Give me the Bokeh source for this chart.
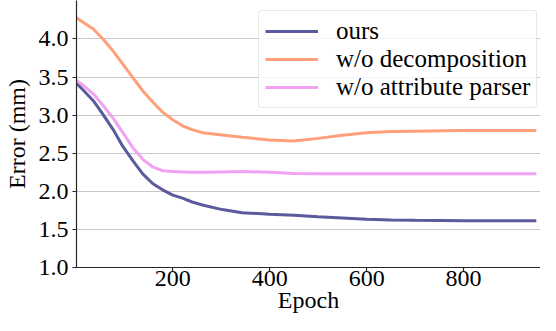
from bokeh.plotting import figure
from bokeh.models import Range1d, Legend, LegendItem, NumeralTickFormatter
from bokeh.embed import file_html
from bokeh.resources import INLINE

# ---- data ----
epochs = [1, 15, 36, 56, 77, 97, 118, 138, 159, 179, 200, 220, 240, 261, 302,
          343, 400, 450, 500, 550, 600, 650, 700, 800, 950]
ours = [3.42, 3.33, 3.19, 3.01, 2.81, 2.59, 2.40, 2.23, 2.10, 2.02, 1.95, 1.91,
        1.86, 1.82, 1.76, 1.72, 1.70, 1.685, 1.665, 1.65, 1.635, 1.625, 1.62,
        1.615, 1.615]
wo_decomposition = [4.28, 4.22, 4.13, 4.00, 3.84, 3.67, 3.49, 3.32, 3.17, 3.04,
                    2.94, 2.86, 2.81, 2.77, 2.74, 2.71, 2.675, 2.66, 2.695,
                    2.735, 2.77, 2.785, 2.79, 2.80, 2.80]
wo_attribute_parser = [3.46, 3.39, 3.28, 3.13, 2.96, 2.77, 2.57, 2.42, 2.32,
                       2.27, 2.26, 2.255, 2.25, 2.25, 2.255, 2.26, 2.25, 2.235,
                       2.23, 2.23, 2.23, 2.23, 2.23, 2.23, 2.23]
series_names = ["ours", "w/o decomposition", "w/o attribute parser"]
series_colors = ["#5a5a9c", "#ffa07a", "#f2a2f2"]
x_ticks = [200, 400, 600, 800]
y_ticks = [1.0, 1.5, 2.0, 2.5, 3.0, 3.5, 4.0]
x_label = "Epoch"
y_label = "Error (mm)"

FONT = "'Liberation Serif', 'Times New Roman', Times, serif"

p = figure(width=540, height=315, output_backend="svg", toolbar_location=None,
           x_range=Range1d(1.4, 958.6), y_range=Range1d(1.0, 4.505),
           min_border_left=71, min_border_right=0, min_border_top=0,
           min_border_bottom=48)
p.outline_line_color = None
p.background_fill_color = "white"
p.border_fill_color = "white"
p.xgrid.visible = False
p.ygrid.grid_line_color = "#c8c8c8"
p.ygrid.grid_line_width = 1.2

p.xaxis.ticker = x_ticks
p.yaxis.ticker = y_ticks
p.yaxis.formatter = NumeralTickFormatter(format="0.0")
p.xaxis.axis_label = x_label
p.yaxis.axis_label = y_label
for ax in (p.xaxis[0], p.yaxis[0]):
    ax.major_label_text_font = FONT
    ax.major_label_text_font_size = "24px"
    ax.major_label_text_color = "black"
    ax.axis_label_text_font = FONT
    ax.axis_label_text_font_size = "24px"
    ax.axis_label_text_font_style = "normal"
    ax.axis_label_text_color = "black"
    ax.minor_tick_line_color = None
    ax.major_tick_out = 4
    ax.major_tick_in = 0
    ax.axis_line_color = "#262626"
    ax.major_tick_line_color = "#262626"
    ax.axis_line_width = 1.2
    ax.major_tick_line_width = 1.2
p.xaxis[0].major_label_standoff = -1
p.xaxis[0].axis_label_standoff = -2
p.yaxis[0].major_label_standoff = 4
p.yaxis[0].axis_label_standoff = 6

renderers = []
for ys, col in zip([ours, wo_decomposition, wo_attribute_parser], series_colors):
    r = p.line(epochs, ys, line_color=col, line_width=3)
    renderers.append(r)

legend = Legend(items=[LegendItem(label=n, renderers=[r]) for n, r in zip(series_names, renderers)],
                location=(182, 159))
legend.label_text_font = FONT
legend.label_text_font_size = "25px"
legend.label_text_color = "black"
legend.glyph_width = 53
legend.glyph_height = 24
legend.label_height = 24
legend.label_standoff = 18
legend.padding = 6
legend.spacing = -7
legend.margin = 0
legend.border_line_color = "#d0d0d0"
legend.border_line_width = 1
legend.background_fill_color = "white"
legend.background_fill_alpha = 0.8
if "border_radius" in legend.properties():
    legend.border_radius = 4
p.add_layout(legend, "center")

open("out.html", "w").write(file_html(p, INLINE))
